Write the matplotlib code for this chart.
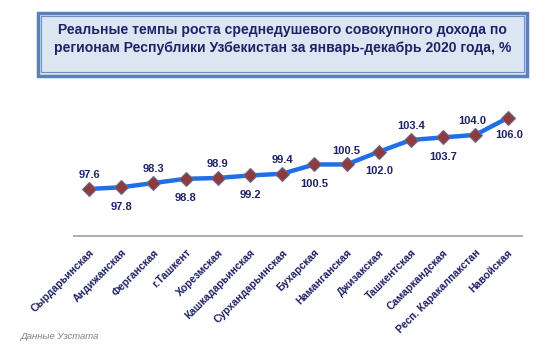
import numpy as np
import matplotlib.pyplot as plt
from matplotlib.patches import Rectangle

plt.rcParams['font.family'] = ['Liberation Sans', 'DejaVu Sans']

regions = ['Сырдарьинская', 'Андижанская', 'Ферганская', 'г.Ташкент', 'Хорезмская',
           'Кашкадарьинская', 'Сурхандарьинская', 'Бухарская', 'Наманганская',
           'Джизакская', 'Ташкентская', 'Самаркандская', 'Респ. Каракалпакстан', 'Навойская']
values = [97.6, 97.8, 98.3, 98.8, 98.9, 99.2, 99.4, 100.5, 100.5, 102.0, 103.4, 103.7, 104.0, 106.0]

title = ('Реальные темпы роста среднедушевого совокупного дохода по\n'
         'регионам Республики Узбекистан за январь-декабрь 2020 года, %')
navy = '#1f2266'

fig = plt.figure(figsize=(5.6, 3.51), dpi=100)

# title box (double border)
fig.patches.append(Rectangle((0.068, 0.783), 0.873, 0.181, transform=fig.transFigure,
                             facecolor='#dce6f2', edgecolor='#5b82b8', lw=2.5, zorder=0))
fig.patches.append(Rectangle((0.074, 0.794), 0.861, 0.159, transform=fig.transFigure,
                             facecolor='none', edgecolor='#6f8fc0', lw=0.8, zorder=1))
fig.text(0.504, 0.89, title, ha='center', va='center', fontsize=10.1, fontweight='bold',
         color=navy, linespacing=1.38)

ax = fig.add_axes([0.1129, 0.3268, 0.8223, 0.3732])
x = np.arange(len(values))
ax.plot(x, values, color='#1f6fea', lw=3.2, solid_capstyle='round', zorder=2)
ax.plot(x, values, ls='none', marker='D', ms=7.5, mfc='#8e3b3f', mec='#6a6a8a', mew=0.8, zorder=3)

for i, v in enumerate(values):
    if i == len(values) - 1:
        off = (1, -12)
    elif i % 2 == 0:
        off = (-2 if i == 12 else 0, 10)
    else:
        off = (0, -14)
    ax.annotate(f'{v:.1f}', (i, v), xytext=off, textcoords='offset points',
                ha='center', va='center', fontsize=8, fontweight='bold', color=navy)

ax.set_xlim(-0.8, 13.5)
ax.set_ylim(92, 107.5)
ax.hlines(92, -0.5, 13.48, color='#a0a0a0', lw=1.2, clip_on=False)
for s in ax.spines.values():
    s.set_visible(False)
ax.set_yticks([])
ax.set_xticks(x)
ax.set_xticklabels(regions, rotation=45, ha='right', rotation_mode='anchor',
                   fontsize=7.6, fontweight='bold', color=navy)
ax.tick_params(axis='x', length=0, pad=8)

fig.text(0.037, 0.035, 'Данные Узстата', fontsize=6.8, style='italic', color='#808080')

fig.savefig('out.png', dpi=100)
